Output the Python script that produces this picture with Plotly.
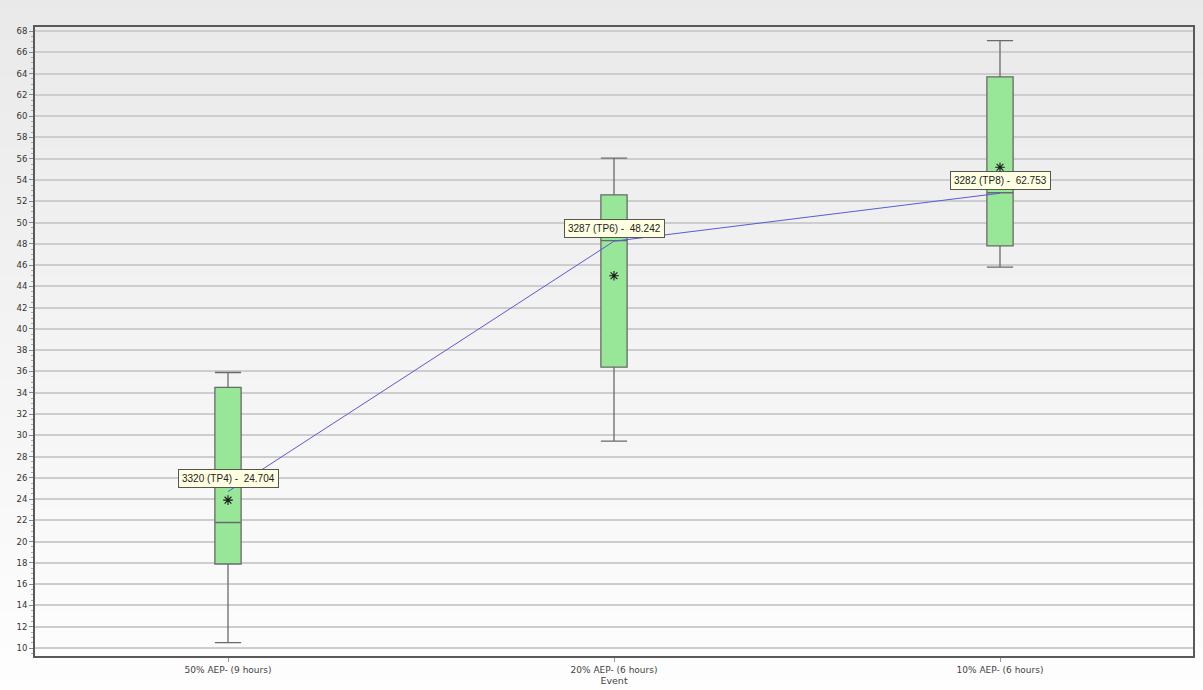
import plotly.graph_objects as go

categories = ["50% AEP- (9 hours)", "20% AEP- (6 hours)", "10% AEP- (6 hours)"]
lower_whisker = [10.5, 29.45, 45.8]
q1_vals = [17.9, 36.4, 47.8]
median_vals = [21.8, 48.3, 52.8]
q3_vals = [34.5, 52.6, 63.7]
upper_whisker = [35.9, 56.05, 67.1]
mean_vals = [23.9, 45.0, 55.2]
line_vals = [24.704, 48.242, 52.753]
line_labels = ["3320 (TP4) -  24.704", "3287 (TP6) -  48.242", "3282 (TP8) -  62.753"]
y_ticks = list(range(10, 70, 2))

xpos = list(range(len(categories)))

fig = go.Figure()

fig.add_trace(go.Box(
    x=xpos, q1=q1_vals, median=median_vals, q3=q3_vals,
    lowerfence=lower_whisker, upperfence=upper_whisker,
    width=0.068, whiskerwidth=1,
    fillcolor="#98e698", line=dict(color="#6a6a6a", width=1.3),
    boxpoints=False, showlegend=False, hoverinfo="skip",
))

fig.add_trace(go.Scatter(
    x=xpos, y=mean_vals, mode="markers",
    marker=dict(symbol="asterisk-open", size=8, color="#1a1a1a", line=dict(color="#1a1a1a", width=1.1)),
    showlegend=False, hoverinfo="skip",
))

fig.add_trace(go.Scatter(
    x=xpos, y=line_vals, mode="lines",
    line=dict(color="#5a5ad8", width=1),
    showlegend=False, hoverinfo="skip",
))

for xi, yv, lab in zip(xpos, line_vals, line_labels):
    fig.add_annotation(
        x=xi, y=yv, text=lab, showarrow=False, yshift=13,
        font=dict(family="Liberation Sans", size=10, color="#222"),
        bgcolor="#ffffe1", bordercolor="#555", borderwidth=1, borderpad=3,
    )

# vertical gradient background bands
shapes = []
n = 60
y0_all, y1_all = -0.06, 1.05
top_c, bot_c = 233, 254
for i in range(n):
    a = y0_all + (y1_all - y0_all) * i / n
    b = y0_all + (y1_all - y0_all) * (i + 1) / n + 0.001
    t = (i + 0.5) / n
    c = int(round(bot_c + (top_c - bot_c) * t))
    shapes.append(dict(type="rect", xref="paper", yref="paper", x0=-0.05, x1=1.02,
                       y0=a, y1=b, fillcolor=f"rgb({c},{c},{c})", line=dict(width=0), layer="below"))

fig.update_layout(
    width=1203, height=690,
    margin=dict(l=35, r=8, t=27, b=34),
    paper_bgcolor="#f4f4f4", plot_bgcolor="rgba(0,0,0,0)",
    shapes=shapes,
    font=dict(family="DejaVu Sans", size=9, color="#333"),
    xaxis=dict(
        range=[-0.5, 2.5], tickmode="array", tickvals=xpos, ticktext=categories,
        showgrid=False, zeroline=False, showline=True, linecolor="#5a5a5a", linewidth=2,
        mirror=True, ticks="outside", ticklen=4, tickcolor="#999",
        tickfont=dict(family="DejaVu Sans", size=9, color="#444"),
        title=dict(text="Event", font=dict(family="DejaVu Sans", size=9.5, color="#444"), standoff=1),
    ),
    yaxis=dict(
        range=[9.25, 68.38], tickmode="array", tickvals=y_ticks,
        showgrid=True, gridcolor="#cdcdcd", gridwidth=1.6, zeroline=False,
        showline=True, linecolor="#5a5a5a", linewidth=2, mirror=True,
        ticks="outside", ticklen=4, tickcolor="#888",
        minor=dict(ticks="outside", ticklen=2, dtick=0.5, tickcolor="#aaa", showgrid=False),
        tickfont=dict(family="DejaVu Sans", size=8.5, color="#333"),
    ),
)

fig.write_html("out.html")
